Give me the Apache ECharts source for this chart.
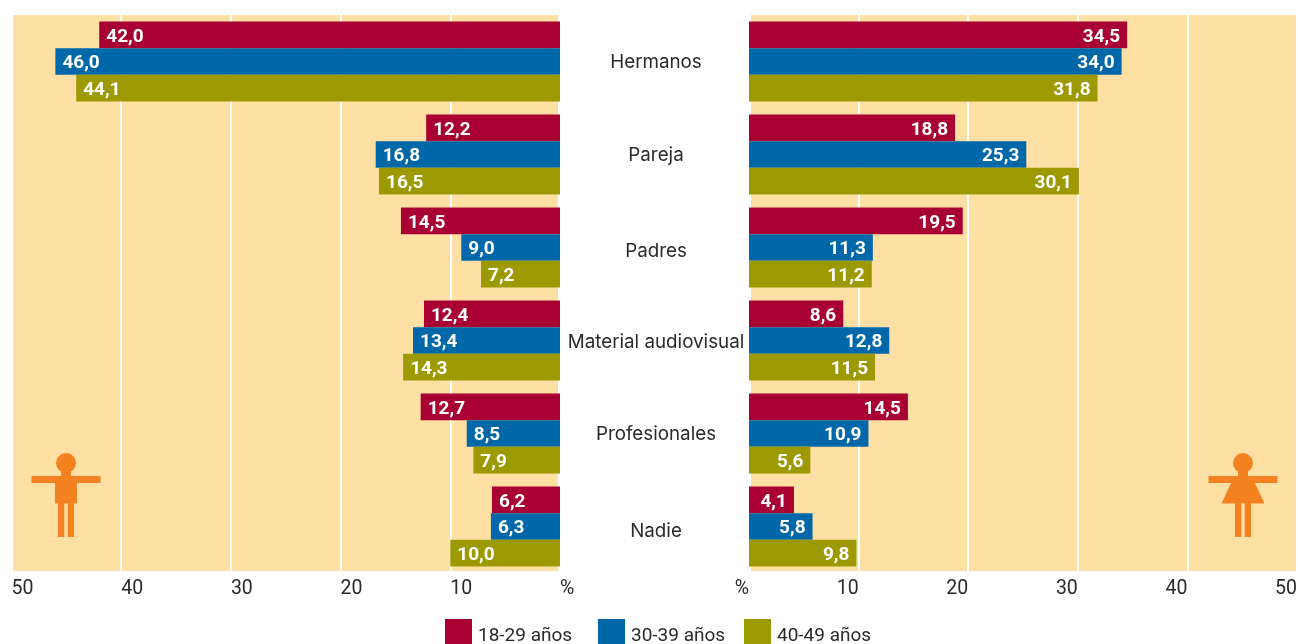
<!DOCTYPE html>
<html><head><meta charset="utf-8">
<style>html,body{margin:0;padding:0;background:#fff}#c{width:1298px;height:644px}</style>
<script src="https://cdn.jsdelivr.net/npm/echarts@6/dist/echarts.min.js"></script>
</head><body><div id="c"></div>
<script>
const categories = ['Hermanos','Pareja','Padres','Material audiovisual','Profesionales','Nadie'];
const seriesNames = ['18-29 años','30-39 años','40-49 años'];
const men18 = [42.0,12.2,14.5,12.4,12.7,6.2];
const men30 = [46.0,16.8,9.0,13.4,8.5,6.3];
const men40 = [44.1,16.5,7.2,14.3,7.9,10.0];
const women18 = [34.5,18.8,19.5,8.6,14.5,4.1];
const women30 = [34.0,25.3,11.3,12.8,10.9,5.8];
const women40 = [31.8,30.1,11.2,11.5,5.6,9.8];
const colors = ['#A80033','#0067A8','#9C9A00'];
const BG = '#FEE0A4', FIG = '#F58220', INK = '#2a2a2a';
const FONT = 'Roboto';
const labelPad = [2,2,8,4,2,10];
const legendLeft = [445,598,744];

const comma = v => v.toFixed(1).replace('.', ',');
function bar(name, data, i, ax, pos) {
  return {
    type: 'bar', name, data, color: colors[i],
    xAxisIndex: ax, yAxisIndex: ax,
    barWidth: 26.7, barGap: '0%',
    label: {
      show: true, position: pos, distance: 7, offset: [0, 2], color: '#fff',
      fontFamily: FONT, fontWeight: 700, fontSize: 19,
      formatter: p => comma(p.value)
    }
  };
}
function xAxis(idx, inverse, align) {
  return {
    type: 'value', gridIndex: idx, min: 0, max: 50, interval: 10, inverse,
    axisLine: {show:false}, axisTick: {show:false},
    splitLine: {show:true, lineStyle:{color:'#fff', width:2}},
    axisLabel: {
      align, margin: 6, color: INK, fontFamily: FONT, fontSize: 19.5,
      showMinLabel: true, showMaxLabel: true,
      formatter: v => v === 0 ? '%' : String(v)
    }
  };
}
const rect = (x,y,width,height,fill) => ({type:'rect', shape:{x,y,width,height}, style:{fill}, z:-1});
const part = (o) => Object.assign({z:5, style:{fill:FIG}}, o);
function man(cx){
  return [
    part({type:'circle', shape:{cx, cy:463, r:10}}),
    part({type:'rect', shape:{x:cx-5, y:470, width:10, height:8}}),
    part({type:'rect', shape:{x:cx-34.5, y:476, width:69, height:7}}),
    part({type:'rect', shape:{x:cx-11, y:476, width:22, height:27.5}}),
    part({type:'rect', shape:{x:cx-8, y:503, width:6.3, height:34}}),
    part({type:'rect', shape:{x:cx+1.7, y:503, width:6.3, height:34}})
  ];
}
function woman(cx){
  return [
    part({type:'circle', shape:{cx, cy:463, r:10}}),
    part({type:'rect', shape:{x:cx-5, y:470, width:10, height:8}}),
    part({type:'rect', shape:{x:cx-34.5, y:476, width:69, height:7}}),
    part({type:'polygon', shape:{points:[[cx-11,481],[cx+11,481],[cx+21.5,503.5],[cx-21.5,503.5]]}}),
    part({type:'rect', shape:{x:cx-8, y:503, width:6.3, height:34}}),
    part({type:'rect', shape:{x:cx+1.7, y:503, width:6.3, height:34}})
  ];
}
const catRich = {};
labelPad.forEach((p,i) => { catRich['c'+i] = {padding:[p,0,0,0], color:INK, fontFamily:'Inter', fontSize:18.8}; });

const chart = echarts.init(document.getElementById('c'), null, {renderer:'canvas'});
chart.setOption({
  animation: false,
  backgroundColor: '#fff',
  grid: [
    {left: 11.5, top: 15, width: 548.5, height: 558, outerBoundsMode: 'none'},
    {left: 749, top: 15, width: 548, height: 558, outerBoundsMode: 'none'}
  ],
  xAxis: [xAxis(0, true, 'left'), xAxis(1, false, 'right')],
  yAxis: [
    {type:'category', gridIndex:0, data:categories, inverse:true, position:'right',
     axisLine:{show:false}, axisTick:{show:false}, axisLabel:{show:false}},
    {type:'category', gridIndex:1, inverse:true, position:'left', data: categories,
     axisLine:{show:false}, axisTick:{show:false},
     axisLabel:{align:'center', margin:93, color:INK, fontFamily:'Inter', fontSize:18.8,
       formatter:(v,i) => `{c${i}|${v}}`, rich:catRich}}
  ],
  legend: seriesNames.map((name,i) => ({
    left: legendLeft[i], top: 619, padding: 0, itemWidth: 27, itemHeight: 25,
    icon: 'rect', data: [name], selectedMode: false,
    formatter: n => `{a|${n}}`,
    textStyle: {color: INK, fontFamily: FONT, fontSize: 19,
      rich:{a:{color:INK, fontFamily:FONT, fontSize:19, padding:[10,0,0,1]}}}
  })),
  graphic: [
    rect(13, 15, 545, 556, BG),
    rect(751, 15, 545, 556, BG),
    ...man(66),
    ...woman(1243)
  ],
  series: [
    bar(seriesNames[0], men18, 0, 0, 'insideLeft'),
    bar(seriesNames[1], men30, 1, 0, 'insideLeft'),
    bar(seriesNames[2], men40, 2, 0, 'insideLeft'),
    bar(seriesNames[0], women18, 0, 1, 'insideRight'),
    bar(seriesNames[1], women30, 1, 1, 'insideRight'),
    bar(seriesNames[2], women40, 2, 1, 'insideRight')
  ]
});
</script></body></html>
